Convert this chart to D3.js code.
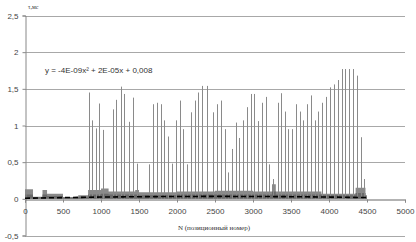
<!DOCTYPE html>
<html><head><meta charset="utf-8">
<script src="https://cdn.jsdelivr.net/npm/d3@7"></script>
<style>body{margin:0;background:#fff}svg{display:block}</style>
</head><body>
<svg id="c" width="416" height="242"></svg>
<script>
const yTicks = [-0.5, 0, 0.5, 1, 1.5, 2, 2.5];
const yTickLabels = ["-0,5", "0", "0,5", "1", "1,5", "2", "2,5"];
const xTicks = [0, 500, 1000, 1500, 2000, 2500, 3000, 3500, 4000, 4500, 5000];
const xTickLabels = ["0","500","1000","1500","2000","2500","3000","3500","4000","4500","5000"];

// tall spikes (N, tau)
const spikeN = [838,886,938,978,1030,1162,1197,1267,1307,1364,1417,1470,1636,1688,1741,1789,1833,1886,1930,1983,
  2036,2083,2136,2180,2233,2280,2333,2391,2478,2530,2579,2628,2667,2720,2772,2820,2872,2917,2970,3017,
  3070,3114,3167,3214,3267,3325,3368,3421,3464,3517,3566,3614,3662,3714,3763,3816,3859,3912,3961,4013,
  4062,4112,4167,4211,4263,4312,4368,4417,4464];
const spikeV = [1.45,1.07,0.96,1.30,0.94,1.22,1.35,1.53,1.43,1.05,1.38,0.48,0.47,1.29,1.31,1.29,1.07,0.85,0.48,1.07,
  1.34,0.95,0.47,1.18,1.34,1.45,1.54,1.54,1.18,1.29,1.34,0.95,0.36,0.68,1.04,0.83,1.07,1.25,1.43,1.43,
  1.06,1.31,1.39,0.47,0.27,1.31,1.44,1.19,0.95,0.95,1.29,1.19,1.07,1.29,1.41,1.07,1.19,1.31,1.39,1.52,
  1.56,1.62,1.77,1.77,1.77,1.77,1.68,0.84,0.27];

// low-level band of values (step start N, top tau)
const bandN = [0,105,230,290,500,700,830,1000,1100,1450,1500,2000,2500,3000,3250,3300,3900,4350,4480,4500];
const bandV = [0.13,0.03,0.12,0.07,0.025,0.05,0.12,0.14,0.10,0.12,0.09,0.10,0.11,0.10,0.20,0.10,0.07,0.15,0.05,0.05];
// lower dense part of the band
const coreV = [0.06,0.02,0.06,0.04,0.015,0.03,0.06,0.07,0.06,0.06,0.05,0.06,0.06,0.06,0.10,0.06,0.05,0.08,0.03,0.03];

// polynomial trend line
const trendN = [0,500,1000,1500,2000,2500,3000,3500,4000,4500];
const trendV = [0.008,0.017,0.024,0.029,0.032,0.033,0.032,0.029,0.024,0.017];

const equation = "y = -4E-09x² + 2E-05x + 0,008";
const xTitle = "N (позиционный номер)";
const yTitle = "τ,мс";

const svg = d3.select("#c");
const x = d3.scaleLinear().domain([0, 5000]).range([25, 405]);
const y = d3.scaleLinear().domain([-0.5, 2.5]).range([235.5, 15.5]);

// gridlines
svg.append("g").selectAll("line").data(yTicks.filter(v => v !== 0)).join("line")
  .attr("x1", x(0)).attr("x2", x(5000))
  .attr("y1", d => Math.round(y(d)) + 0.5).attr("y2", d => Math.round(y(d)) + 0.5)
  .attr("stroke", "#a8a8a8").attr("stroke-width", 1);

// band
const area = d3.area().curve(d3.curveStepAfter).x(d => x(d[0])).y0(y(0)).y1(d => y(d[1]));
svg.append("path").datum(bandN.map((n, i) => [n, bandV[i]])).attr("d", area).attr("fill", "#8a8a8a");
svg.append("path").datum(bandN.map((n, i) => [n, coreV[i]])).attr("d", area).attr("fill", "#6a6a6a");

// spikes
svg.append("g").selectAll("line").data(spikeN.map((n, i) => [n, spikeV[i]])).join("line")
  .attr("x1", d => Math.round(x(d[0])) + 0.5).attr("x2", d => Math.round(x(d[0])) + 0.5)
  .attr("y1", y(0)).attr("y2", d => y(d[1]))
  .attr("stroke", "#8a8a8a").attr("stroke-width", 1);

// axes
const yAxis = d3.axisLeft(y).tickValues(yTicks).tickSize(3).tickFormat((d, i) => yTickLabels[i]);
const gy = svg.append("g").attr("transform", `translate(${x(0)+0.5},0)`).call(yAxis);
gy.select(".domain").attr("stroke", "#888");
gy.selectAll(".tick line").attr("stroke", "#888");
gy.selectAll("text").attr("font-family", "Liberation Sans, Arial, sans-serif").attr("font-size", 8).attr("fill", "#444").attr("x", -7);

const xAxis = d3.axisBottom(x).tickValues(xTicks).tickSize(3).tickFormat((d, i) => xTickLabels[i]);
const gx = svg.append("g").attr("transform", `translate(0,${Math.round(y(0))+0.5})`).call(xAxis);
gx.select(".domain").attr("stroke", "#666");
gx.selectAll(".tick line").attr("stroke", "#888");
gx.selectAll("text").attr("font-family", "Liberation Sans, Arial, sans-serif").attr("font-size", 8).attr("fill", "#444").attr("y", 9);

// trend line
svg.append("path")
  .datum(trendN.map((n, i) => [n, trendV[i]]))
  .attr("d", d3.line().curve(d3.curveMonotoneX).x(d => x(d[0])).y(d => y(d[1])))
  .attr("fill", "none").attr("stroke", "#000").attr("stroke-width", 1.6).attr("stroke-dasharray", "5,3");

// texts
svg.append("text").attr("x", 45).attr("y", 73).text(equation)
  .attr("font-family", "Liberation Sans, Arial, sans-serif").attr("font-size", 8).attr("fill", "#333");
svg.append("text").attr("x", 214).attr("y", 230).attr("text-anchor", "middle").text(xTitle)
  .attr("font-family", "Liberation Serif, Times New Roman, serif").attr("font-size", 7).attr("fill", "#333");
svg.append("text").attr("x", 28).attr("y", 9).text(yTitle)
  .attr("font-family", "Liberation Serif, Times New Roman, serif").attr("font-size", 6).attr("fill", "#333");
</script>
</body></html>
